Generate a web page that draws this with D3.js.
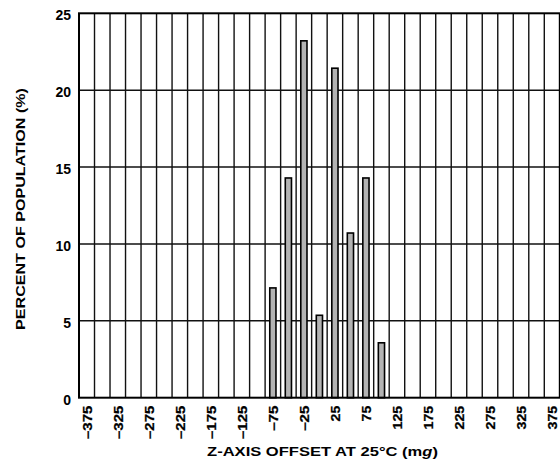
<!DOCTYPE html>
<html>
<head>
<meta charset="utf-8">
<script src="https://cdn.jsdelivr.net/npm/d3@7/dist/d3.min.js"></script>
<style>
  html, body { margin: 0; padding: 0; background: #fff; }
  svg { display: block; font-family: Arial, "Liberation Sans", Helvetica, sans-serif; }
</style>
</head>
<body>
<svg id="chart" width="560" height="463"></svg>
<script>
// Data
const offsets = [-75, -50, -25, 0, 25, 50, 75, 100];            // mg, bin centers
const percents = [7.14, 14.29, 23.21, 5.36, 21.43, 10.71, 14.29, 3.57]; // % of population
const xTickLabels = [-375, -325, -275, -225, -175, -125, -75, -25, 25, 75, 125, 175, 225, 275, 325, 375];
const yTickLabels = [0, 5, 10, 15, 20, 25];
const binWidth = 25;
const xTitle = "Z-AXIS OFFSET AT 25°C (m";
const yTitle = "PERCENT OF POPULATION (%)";

const svg = d3.select("#chart");
const pL = 79, pR = 559.8, pT = 13.3, pB = 397.7;

const x = d3.scaleLinear().domain([-387.5, 387.5]).range([pL, pR]);
const y = d3.scaleLinear().domain([0, 25]).range([pB, pT]);

// grid
const gridX = d3.range(-387.5 + binWidth, 387.5, binWidth);
svg.append("g").selectAll("line").data(gridX).join("line")
  .attr("x1", d => x(d)).attr("x2", d => x(d))
  .attr("y1", pT).attr("y2", pB)
  .attr("stroke", "#111").attr("stroke-width", 1.4);
svg.append("g").selectAll("line").data(yTickLabels.filter(v => v > 0 && v < 25)).join("line")
  .attr("x1", pL).attr("x2", pR)
  .attr("y1", d => y(d)).attr("y2", d => y(d))
  .attr("stroke", "#111").attr("stroke-width", 1.4);

// bars
const bw = binWidth * 0.4;
svg.append("g").selectAll("rect").data(offsets).join("rect")
  .attr("x", d => x(d - bw / 2))
  .attr("width", x(bw) - x(0))
  .attr("y", (d, i) => y(percents[i]))
  .attr("height", (d, i) => y(0) - y(percents[i]))
  .attr("fill", "#b3b3b3").attr("stroke", "#000").attr("stroke-width", 1.6);

// frame
svg.append("rect")
  .attr("x", pL).attr("y", pT).attr("width", pR - pL).attr("height", pB - pT)
  .attr("fill", "none").attr("stroke", "#000").attr("stroke-width", 2);

// y-axis labels
const yAxis = d3.axisLeft(y).tickValues(yTickLabels).tickSize(0).tickPadding(8);
const gy = svg.append("g").attr("transform", `translate(${pL},0)`).call(yAxis);
gy.select(".domain").remove();
gy.selectAll("text").attr("font-size", 14).attr("font-weight", "bold")
  .attr("font-family", "Arial, 'Liberation Sans', sans-serif").attr("fill", "#000")
  .attr("dy", "0.45em");

// x-axis labels (rotated, stretched along reading direction)
const fmt = d => (d < 0 ? "\u2212" + Math.abs(d) : String(d));
const xAxis = d3.axisBottom(x).tickValues(xTickLabels).tickSize(0).tickFormat(fmt);
const gx = svg.append("g").attr("transform", `translate(0,${pB})`).call(xAxis);
gx.select(".domain").remove();
gx.selectAll(".tick text")
  .attr("font-size", 12).attr("font-weight", "bold")
  .attr("font-family", "Arial, 'Liberation Sans', sans-serif").attr("fill", "#000")
  .attr("stroke", "#000").attr("stroke-width", 0.25)
  .attr("text-anchor", "end")
  .attr("x", 0).attr("y", 0).attr("dy", "0.36em")
  .attr("textLength", d => String(Math.abs(d)).length * 8.1 + (d < 0 ? 9.9 : 0) - 0.5)
  .attr("lengthAdjust", "spacingAndGlyphs")
  .attr("transform", "translate(0,8) rotate(-90)");

// x title
const xt = svg.append("text")
  .attr("x", 0).attr("y", 0)
  .attr("text-anchor", "middle")
  .attr("font-size", 13).attr("font-weight", "bold").attr("fill", "#000");
xt.append("tspan").text(xTitle);
xt.append("tspan").attr("font-style", "italic").text("g");
xt.append("tspan").text(")");
const xtLen = xt.node().getComputedTextLength();
xt.attr("transform", `translate(322.5,455.5) scale(${231 / xtLen},1)`);

// y title
const yt = svg.append("text")
  .attr("text-anchor", "middle")
  .attr("font-size", 13.5).attr("font-weight", "bold").attr("fill", "#000")
  .text(yTitle);
const ytLen = yt.node().getComputedTextLength();
yt.attr("transform", `translate(25,209) rotate(-90) scale(${242 / ytLen},1)`);
</script>
</body>
</html>
